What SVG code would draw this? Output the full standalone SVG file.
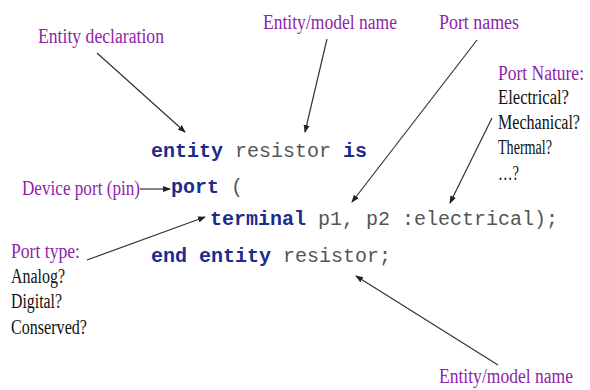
<svg xmlns="http://www.w3.org/2000/svg" width="590" height="390" viewBox="0 0 590 390">
<style>
.lbl{font-family:"Liberation Serif","Times New Roman",serif;font-size:20px;fill:#8e24aa}
.blk{font-family:"Liberation Serif","Times New Roman",serif;font-size:20px;fill:#111}
.code{font-family:"Liberation Mono","Courier New",monospace;font-size:20px;fill:#555}
.kw{fill:#1c2c8c;font-weight:bold}
.arr{stroke:#333;stroke-width:1.2;fill:none;marker-end:url(#ah)}
</style>
<defs>
<marker id="ah" markerUnits="userSpaceOnUse" markerWidth="8" markerHeight="8" viewBox="0 0 8 8" refX="7" refY="4" orient="auto">
<path d="M0,1 L8,4 L0,7 Z" fill="#222"/>
</marker>
</defs>
<rect width="590" height="390" fill="#fff"/>
<g id="code">
<text class="code" x="151" y="157"><tspan class="kw">entity</tspan> resistor <tspan class="kw">is</tspan></text>
<text class="code" x="171" y="193"><tspan class="kw">port</tspan> (</text>
<text class="code" x="210" y="225"><tspan class="kw">terminal</tspan> p1, p2 :electrical);</text>
<text class="code" x="151" y="262"><tspan class="kw">end entity</tspan> resistor;</text>
</g>
<g id="entity-declaration"><text class="lbl" x="38" y="43" textLength="126" lengthAdjust="spacingAndGlyphs">Entity declaration</text></g>
<g id="entity-name-top"><text class="lbl" x="263" y="29" textLength="134" lengthAdjust="spacingAndGlyphs">Entity/model name</text></g>
<g id="port-names"><text class="lbl" x="439" y="29" textLength="80" lengthAdjust="spacingAndGlyphs">Port names</text></g>
<g id="port-nature" transform="translate(498,0) scale(0.8,1)">
<text class="lbl" x="0" y="80" textLength="107.5" lengthAdjust="spacingAndGlyphs">Port Nature:</text>
<text class="blk" x="0" y="104" textLength="88.75" lengthAdjust="spacingAndGlyphs">Electrical?</text>
<text class="blk" x="0" y="129" textLength="102.5" lengthAdjust="spacingAndGlyphs">Mechanical?</text>
<text class="blk" x="0" y="154" textLength="67.5" lengthAdjust="spacingAndGlyphs">Thermal?</text>
<text class="blk" x="0" y="180" textLength="26.25" lengthAdjust="spacingAndGlyphs">…?</text>
</g>
<g id="device-port"><text class="lbl" x="22" y="195" textLength="118" lengthAdjust="spacingAndGlyphs">Device port (pin)</text></g>
<g id="port-type">
<text class="lbl" x="11" y="258" textLength="69" lengthAdjust="spacingAndGlyphs">Port type:</text>
<text class="blk" x="11" y="283" textLength="54" lengthAdjust="spacingAndGlyphs">Analog?</text>
<text class="blk" x="11" y="308" textLength="51" lengthAdjust="spacingAndGlyphs">Digital?</text>
<text class="blk" x="11" y="334" textLength="76" lengthAdjust="spacingAndGlyphs">Conserved?</text>
</g>
<g id="entity-name-bottom" transform="translate(439,383) scale(0.8,1)"><text class="lbl" x="0" y="0" textLength="167.5" lengthAdjust="spacingAndGlyphs">Entity/model name</text></g>
<g id="connectors">
<line class="arr" x1="97" y1="53" x2="185" y2="132"/>
<line class="arr" x1="327" y1="39" x2="305" y2="132"/>
<line class="arr" x1="477" y1="40" x2="352" y2="202"/>
<line class="arr" x1="492" y1="118" x2="450" y2="203"/>
<line class="arr" x1="140" y1="189" x2="170" y2="189"/>
<line class="arr" x1="87" y1="260" x2="205" y2="217"/>
<line class="arr" x1="498" y1="365" x2="356" y2="276"/>
</g>
</svg>
